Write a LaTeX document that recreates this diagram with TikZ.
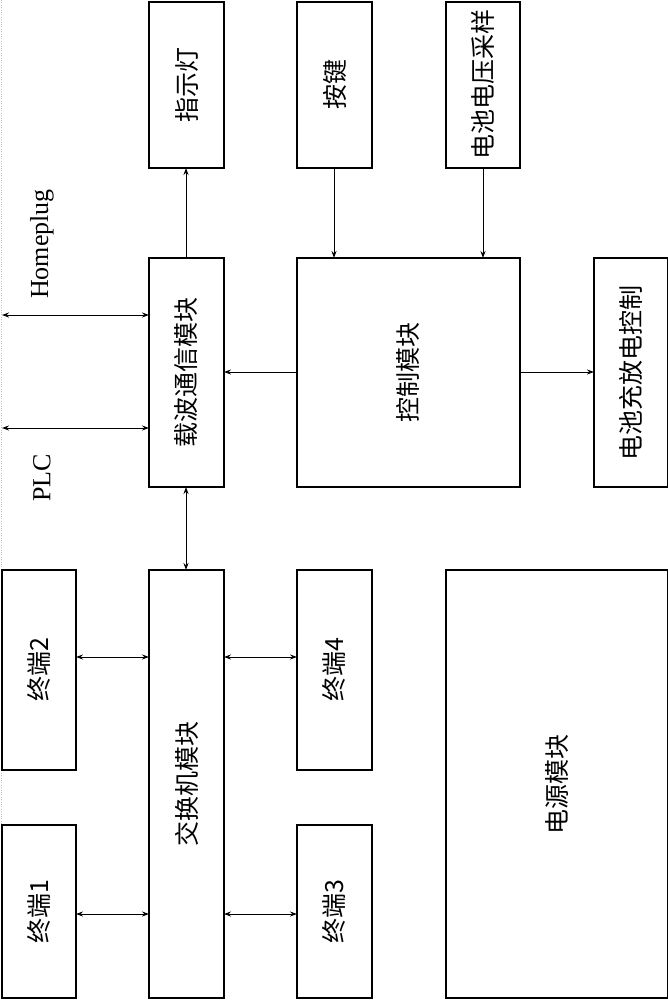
\documentclass[tikz,border=0pt]{standalone}
\usepackage{fontspec}
\setmainfont{Liberation Serif}
\newfontfamily\cjk{Noto Sans CJK SC}
\usetikzlibrary{arrows.meta}
\begin{document}
\begin{tikzpicture}[x=1pt,y=-1pt,
  blk/.style={draw,line width=1.4pt,inner sep=0pt},
  arr/.style={line width=1pt,-{Stealth[length=7pt,width=5pt]}},
  barr/.style={line width=1pt,{Stealth[length=7pt,width=5pt]}-{Stealth[length=7pt,width=5pt]}}]
\useasboundingbox (0,0) rectangle (668,1000);
\draw[gray!50,dotted] (1,0) -- (1,1000);
\newcommand{\blkat}[6]{\draw[blk] (#2,#3) rectangle (#4,#5); \node[font=\cjk\fontsize{25}{30}\selectfont,rotate=90] (#1) at ({(#2+#4)/2},{(#3+#5)/2}) {#6};
  \path (#2,#3) coordinate (#1-tl) (#4,#5) coordinate (#1-br);}
\blkat{zsd}{149}{2}{224}{168}{指示灯}
\blkat{aj}{297}{2}{372}{168}{按键}
\blkat{dycy}{446}{2}{520}{168}{电池电压采样}
\blkat{zb}{149}{258}{224}{487}{载波通信模块}
\blkat{kz}{297}{258}{520}{487}{控制模块}
\blkat{cfd}{594}{258}{668}{487}{电池充放电控制}
\blkat{t2}{2}{570}{76}{770}{终端2}
\blkat{t1}{2}{825}{76}{998}{终端1}
\blkat{jh}{149}{570}{224}{998}{交换机模块}
\blkat{t4}{297}{570}{372}{770}{终端4}
\blkat{t3}{297}{825}{372}{998}{终端3}
\blkat{dy}{446}{570}{668}{998}{电源模块}
\node[rotate=90,font=\fontsize{26}{30}\selectfont] (hp) at (42,244) {Homeplug};
\node[rotate=90,font=\fontsize{26}{30}\selectfont] (plc) at (42,478) {PLC};
\coordinate (lh) at (2,315);
\coordinate (lp) at (2,428);
\draw[barr] (lh) -- (lh -| zb-tl);
\draw[barr] (lp) -- (lp -| zb-tl);
\draw[arr] (186,258) -- (186,168);
\draw[arr] (334,168) -- (334,258);
\draw[arr] (483,168) -- (483,258);
\draw[arr] (297,372) -- (224,372);
\draw[arr] (520,372) -- (594,372);
\draw[barr] (186,487) -- (186,570);
\draw[barr] (76,657) -- (149,657);
\draw[barr] (76,914) -- (149,914);
\draw[barr] (224,657) -- (297,657);
\draw[barr] (224,914) -- (297,914);
\end{tikzpicture}
\end{document}
